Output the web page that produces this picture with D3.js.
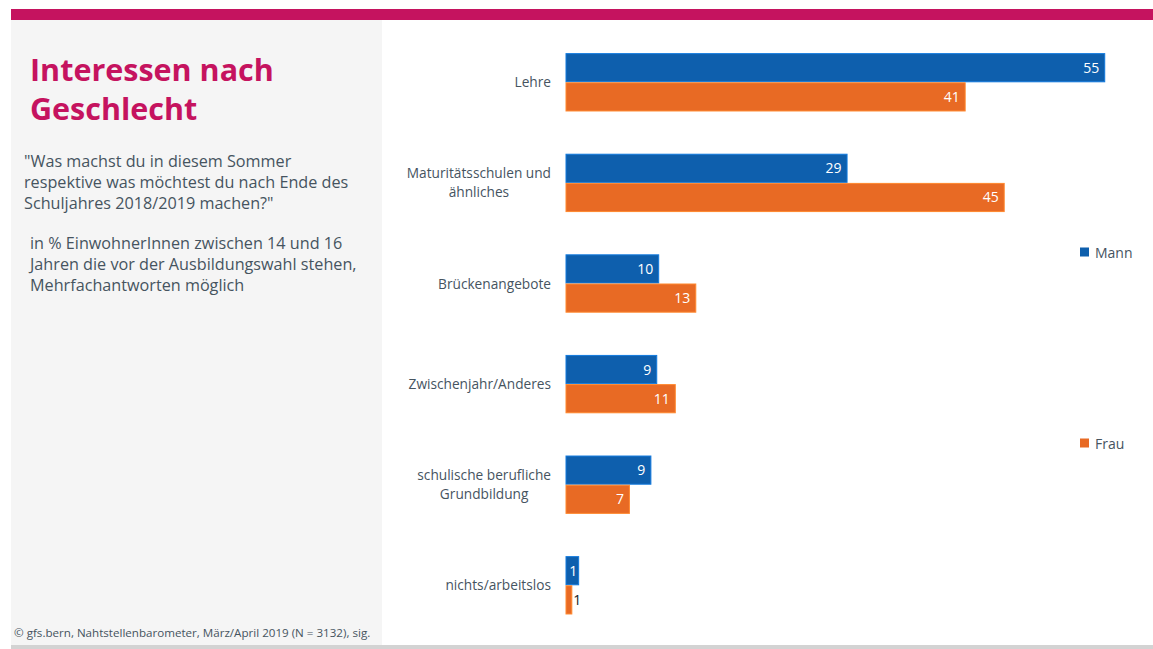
<!DOCTYPE html>
<html>
<head>
<meta charset="utf-8">
<script src="https://cdn.jsdelivr.net/npm/d3@7"></script>
<style>
  html, body { margin: 0; padding: 0; background: #ffffff; }
  svg { display: block; font-family: "Open Sans", "Noto Sans", sans-serif; }
</style>
</head>
<body>
<svg id="chart" width="1153" height="649"></svg>
<script>
const categories = ["Lehre", "Maturitätsschulen und ähnliches", "Brückenangebote", "Zwischenjahr/Anderes", "schulische berufliche Grundbildung", "nichts/arbeitslos"];
const seriesNames = ["Mann", "Frau"];
const mannValues = [55.3, 28.9, 9.6, 9.4, 8.8, 1.4];
const frauValues = [41.0, 45.0, 13.4, 11.3, 6.6, 0.7];
const titleLines = ["Interessen nach", "Geschlecht"];
const questionLines = ["\"Was machst du in diesem Sommer", "respektive was möchtest du nach Ende des", "Schuljahres 2018/2019 machen?\""];
const noteLines = ["in % EinwohnerInnen zwischen 14 und 16", "Jahren die vor der Ausbildungswahl stehen,", "Mehrfachantworten möglich"];
const sourceText = "© gfs.bern, Nahtstellenbarometer, März/April 2019 (N = 3132), sig.";

const colors = { Mann: "#0e5fad", Frau: "#e86a24" };
const pink = "#c5135f";
const textGray = "#46545f";

const svg = d3.select("#chart");

// background panels
svg.append("rect").attr("x", 11).attr("y", 20).attr("width", 371).attr("height", 625).attr("fill", "#f5f5f5");
svg.append("rect").attr("x", 11).attr("y", 9).attr("width", 1142).attr("height", 11).attr("fill", pink);
svg.append("rect").attr("x", 11).attr("y", 645).attr("width", 1142).attr("height", 4).attr("fill", "#d3d3d3");

// title
svg.append("g").selectAll("text").data(titleLines).join("text")
  .attr("x", 30).attr("y", (d, i) => 81 + i * 39)
  .attr("fill", pink).attr("font-size", 30.5).attr("font-weight", 700)
  .text(d => d);

svg.append("g").selectAll("text").data(questionLines).join("text")
  .attr("x", 24).attr("y", (d, i) => 167 + i * 21)
  .attr("fill", textGray).attr("font-size", 16.2)
  .text(d => d);

svg.append("g").selectAll("text").data(noteLines).join("text")
  .attr("x", 30).attr("y", (d, i) => 249 + i * 21)
  .attr("fill", textGray).attr("font-size", 16.2)
  .text(d => d);

svg.append("text").attr("x", 14).attr("y", 637)
  .attr("fill", textGray).attr("font-size", 11.6).text(sourceText);

// scales
const x = d3.scaleLinear().domain([0, 60]).range([565.5, 565.5 + 60 * 9.76]);
const y0 = d3.scaleBand().domain(categories).range([32, 635.6]).paddingInner(0.42).paddingOuter(0.21);
const y1 = d3.scaleBand().domain(seriesNames).range([0, y0.bandwidth()]);

const rows = categories.map((c, i) => ({ category: c, values: [
  { series: "Mann", value: mannValues[i] },
  { series: "Frau", value: frauValues[i] }
]}));

const groups = svg.append("g").selectAll("g").data(rows).join("g")
  .attr("transform", d => `translate(0,${y0(d.category)})`);

groups.selectAll("rect").data(d => d.values).join("rect")
  .attr("x", x(0) + 0.5)
  .attr("y", d => y1(d.series) + 0.5)
  .attr("width", d => Math.max(0, x(d.value) - x(0) - 1))
  .attr("height", y1.bandwidth() - 1)
  .attr("fill", d => colors[d.series])
  .attr("stroke", d => d3.color(colors[d.series]).brighter(0.7))
  .attr("stroke-width", 1);

const fmt = d3.format(".0f");
groups.selectAll("text.val").data(d => d.values).join("text")
  .attr("class", "val")
  .attr("font-size", 14)
  .attr("y", d => y1(d.series) + y1.bandwidth() / 2 + 5)
  .each(function(d) {
    const w = x(d.value) - x(0);
    const t = d3.select(this).text(fmt(d.value));
    if (w > 20) {
      t.attr("x", x(d.value) - 6).attr("text-anchor", "end").attr("fill", "#ffffff");
    } else if (w > 10) {
      t.attr("x", x(d.value) - 2).attr("text-anchor", "end").attr("fill", "#ffffff");
    } else {
      t.attr("x", x(d.value) + 1).attr("text-anchor", "start").attr("fill", "#222222");
    }
  });

// category labels with wrapping
const labelFont = 13.7;
const labelG = svg.append("g");
function measure(s) {
  const p = labelG.append("text").attr("font-size", labelFont).text(s);
  const w = p.node().getComputedTextLength();
  p.remove();
  return w;
}
categories.forEach(c => {
  const words = c.split(" ");
  const lines = [];
  let cur = "";
  words.forEach(w => {
    const test = cur ? cur + " " + w : w;
    if (measure(test) > 170 && cur) { lines.push(cur); cur = w; }
    else cur = test;
  });
  lines.push(cur);
  const cy = y0(c) + y0.bandwidth() / 2;
  const lh = 19;
  const maxW = Math.max(...lines.map(measure));
  labelG.append("g").selectAll("text").data(lines).join("text")
    .attr("x", lines.length > 1 ? 551 - maxW / 2 : 551)
    .attr("text-anchor", lines.length > 1 ? "middle" : "end")
    .attr("font-size", labelFont).attr("fill", textGray)
    .attr("y", (d, i) => cy + 5 + (i - (lines.length - 1) / 2) * lh)
    .text(d => d);
});

// legend
const legendY = { Mann: 252, Frau: 443 };
const legend = svg.append("g").selectAll("g").data(seriesNames).join("g")
  .attr("transform", d => `translate(1080,${legendY[d]})`);
legend.append("rect").attr("x", 0).attr("y", -4.5).attr("width", 9).attr("height", 9).attr("fill", d => colors[d]);
legend.append("text").attr("x", 15).attr("y", 5.5).attr("font-size", 14).attr("fill", textGray).text(d => d);
</script>
</body>
</html>
